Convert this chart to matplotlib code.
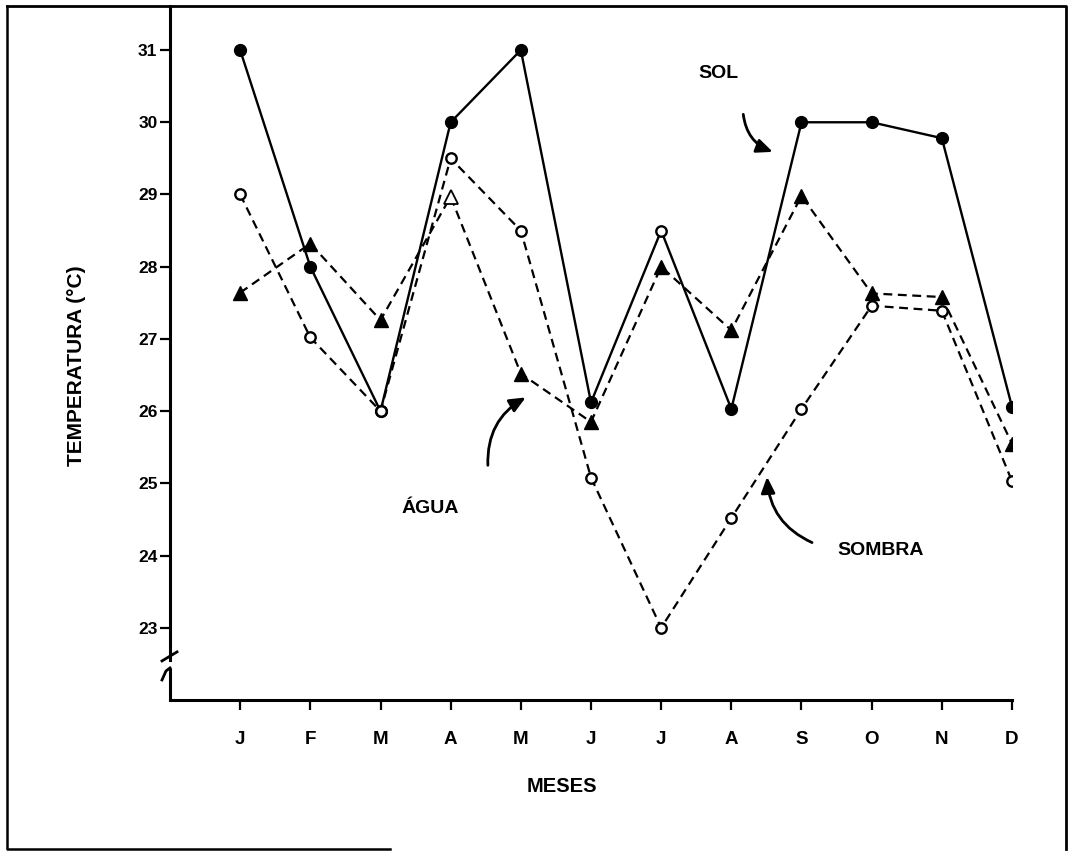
import matplotlib
matplotlib.use("Agg")
import matplotlib.pyplot as plt
from matplotlib.lines import Line2D
import matplotlib.transforms as mtransforms

# ---- data ----
months = ["J", "F", "M", "A", "M", "J", "J", "A", "S", "O", "N", "D"]
month_pos = list(range(1, 13))
sol = [31.0, 28.0, 26.0, 30.0, 31.0, 26.12, 28.5, 26.03, 30.0, 30.0, 29.78, 26.06]
agua = [27.64, 28.32, 27.26, 28.97, 26.52, 25.85, 28.0, 27.12, 28.98, 27.63, 27.58, 25.55]
sombra = [29.0, 27.02, 26.0, 29.5, 28.5, 25.08, 23.0, 24.52, 26.03, 27.46, 27.39, 25.03]
yticks = [23, 24, 25, 26, 27, 28, 29, 30, 31]

FONT = "Liberation Sans"
W, H = 1071, 851
fig = plt.figure(figsize=(W / 100, H / 100), dpi=100)
ax = fig.add_axes([170 / W, 1 - 700 / H, (1012 - 170) / W, (700 - 6) / H])

ax.set_xlim(0, 12)
ax.set_ylim(22.0, 31.61)

dash = (0, (4, 2.5))
agua_filled = [i for i in range(len(agua)) if i != 3]
ax.plot(month_pos, agua, linestyle=dash, color="black", lw=1.6,
        marker="^", ms=10, mfc="black", mec="black", markevery=agua_filled, zorder=3)
ax.plot([month_pos[3]], [agua[3]], linestyle="none", marker="^", ms=10,
        mfc="white", mec="black", mew=1.3, zorder=4)
sol_filled = [i for i in range(len(sol)) if i != 6]
ax.plot(month_pos, sol, linestyle="-", color="black", lw=1.7,
        marker="o", ms=8.5, mfc="black", mec="black", markevery=sol_filled, zorder=4)
ax.plot([month_pos[6]], [sol[6]], linestyle="none", marker="o", ms=7.5,
        mfc="white", mec="black", mew=1.7, zorder=5)
ax.plot(month_pos, sombra, linestyle=dash, color="black", lw=1.6,
        marker="o", ms=7.5, mfc="white", mec="black", mew=1.7, zorder=5)

# spines
for s in ["top", "right"]:
    ax.spines[s].set_visible(False)
ax.spines["left"].set_linewidth(2.2)
ax.spines["bottom"].set_linewidth(2.2)
ax.spines["left"].set_bounds(22.555, 31.61)
trans = mtransforms.blended_transform_factory(ax.transAxes, ax.transData)
ax.plot([0, 0], [22.0, 22.444], transform=trans, color="black", lw=2.2,
        clip_on=False, solid_capstyle="butt")
# break marks
px = lambda x: (x - 170) / 842
py = lambda y: 22.0 + (700 - y) / 72.1
ax.plot([px(162), px(177)], [py(661), py(652)], transform=trans,
        color="black", lw=2.0, clip_on=False)
ax.plot([px(162), px(166), px(170)], [py(680), py(671), py(668)], transform=trans,
        color="black", lw=2.0, clip_on=False)

ax.set_yticks(yticks)
ax.set_yticklabels([str(v) for v in yticks], fontfamily=FONT, fontweight="bold", fontsize=12.5)
ax.set_xticks(month_pos)
ax.set_xticklabels(months, fontfamily=FONT, fontweight="bold", fontsize=13.5)
ax.tick_params(axis="y", direction="out", length=7, width=1.6, pad=2)
ax.tick_params(axis="x", direction="out", length=7, width=1.6, pad=15)

fig.text(562 / W, 1 - 786 / H, "MESES", ha="center", va="center",
         fontfamily=FONT, fontweight="bold", fontsize=14.5)
fig.text(77 / W, 1 - 366 / H, "TEMPERATURA (°C)", ha="center", va="center",
         rotation=90, fontfamily=FONT, fontweight="bold", fontsize=15)

# annotations
tk = dict(fontfamily=FONT, fontweight="bold", fontsize=14, ha="center", va="center")
ax.text(7.82, 30.67, "SOL", **tk)
ax.text(3.71, 24.65, "ÁGUA", **tk)
ax.text(10.13, 24.07, "SOMBRA", **tk)
ap = dict(arrowstyle="-|>,head_length=0.8,head_width=0.35", color="black", lw=2.0,
          mutation_scale=12, shrinkA=0, shrinkB=0)
ax.annotate("", xy=(8.59, 29.59), xytext=(8.17, 30.11),
            arrowprops=dict(connectionstyle="arc3,rad=0.3", **ap))
ax.annotate("", xy=(5.07, 26.19), xytext=(4.53, 25.25),
            arrowprops=dict(connectionstyle="arc3,rad=-0.3", **ap))
ax.annotate("", xy=(8.51, 25.09), xytext=(9.15, 24.18),
            arrowprops=dict(connectionstyle="arc3,rad=-0.3", **ap))

# outer frame
fx = lambda x: x / W
fy = lambda y: 1 - y / H
fig.add_artist(Line2D([fx(7), fx(1066), fx(1066)], [fy(6), fy(6), fy(849)],
                      transform=fig.transFigure, color="black", lw=2.0))
fig.add_artist(Line2D([fx(7), fx(7), fx(390)], [fy(6), fy(849), fy(849)],
                      transform=fig.transFigure, color="black", lw=1.8))

fig.savefig("out.png", dpi=100, facecolor="white")
